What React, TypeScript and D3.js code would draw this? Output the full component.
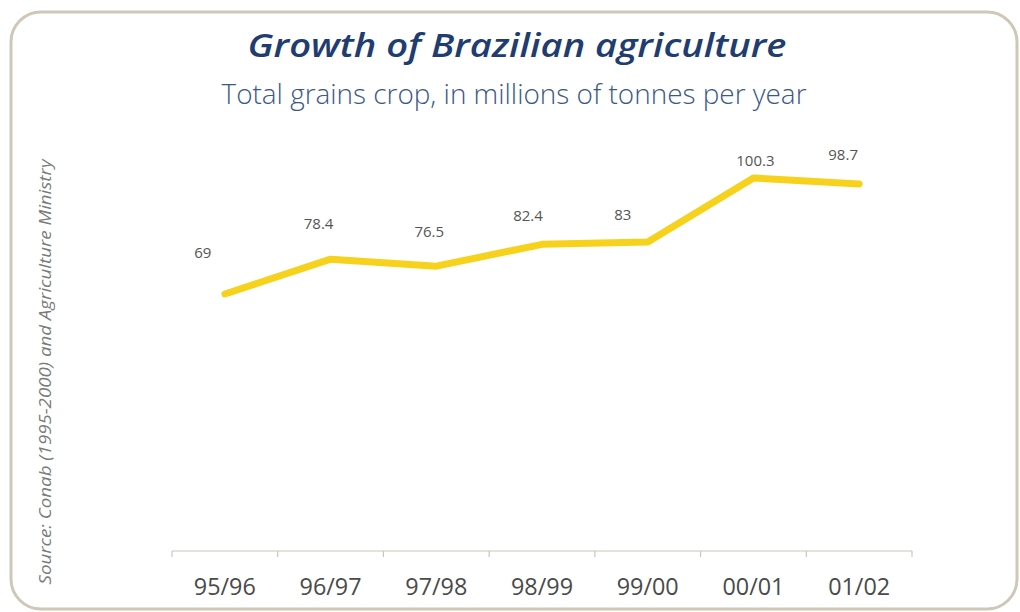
import React from "react";
import * as d3 from "d3";

const seasons: string[] = ["95/96", "96/97", "97/98", "98/99", "99/00", "00/01", "01/02"];
const grains: number[] = [69, 78.4, 76.5, 82.4, 83, 100.3, 98.7];
const valueLabels: string[] = ["69", "78.4", "76.5", "82.4", "83", "100.3", "98.7"];
// per-label nudges (layout only)
const labelDx: number[] = [-22, -12, -7, -14, -25, 2, -16];
const labelDy: number[] = [-36, -30, -29, -23, -22, -12, -24];

const W = 1020;
const H = 612;
const FONT = "'Open Sans', sans-serif";

export default function App() {
  const x = d3.scaleBand<string>().domain(seasons).range([172, 912]).padding(0);
  const y = d3.scaleLinear().domain([0, 100]).range([549.7, 179.1]);
  const cx = (s: string) => (x(s) as number) + x.bandwidth() / 2;

  const line = d3
    .line<number>()
    .x((_, i) => cx(seasons[i]))
    .y((d) => y(d));

  const axisY = 551;
  const tickXs = [...seasons.map((s) => x(s) as number), 912];

  return (
    <svg
      width={W}
      height={H}
      style={{ position: "absolute", left: 0, top: 0, background: "#ffffff" }}
    >
      <rect x={0} y={0} width={W} height={H} fill="#ffffff" />
      <rect
        x={11}
        y={12}
        width={1006}
        height={597}
        rx={30}
        ry={30}
        fill="#ffffff"
        stroke="#cfc8b8"
        strokeWidth={3}
      />
      <text
        x={517}
        y={57}
        textAnchor="middle"
        fontFamily={FONT}
        fontWeight={600}
        fontStyle="italic"
        fontSize={33}
        fill="#1f3d70"
        textLength={539}
        lengthAdjust="spacingAndGlyphs"
      >
        Growth of Brazilian agriculture
      </text>
      <text
        x={514}
        y={104}
        textAnchor="middle"
        fontFamily={FONT}
        fontWeight={300}
        fontSize={27}
        fill="#3b5888"
        textLength={585}
        lengthAdjust="spacingAndGlyphs"
      >
        Total grains crop, in millions of tonnes per year
      </text>
      <text
        transform={`translate(51, 372) rotate(-90)`}
        textAnchor="middle"
        fontFamily={FONT}
        fontStyle="italic"
        fontSize={16}
        fill="#7a7a7a"
        textLength={425}
        lengthAdjust="spacingAndGlyphs"
      >
        Source: Conab (1995-2000) and Agriculture Ministry
      </text>

      {/* axis */}
      <line x1={172} x2={912} y1={axisY} y2={axisY} stroke="#c9c6bc" strokeWidth={1.2} />
      {tickXs.map((tx, i) => (
        <line key={i} x1={tx} x2={tx} y1={axisY} y2={axisY + 6} stroke="#c9c6bc" strokeWidth={1.2} />
      ))}
      {seasons.map((s) => (
        <text
          key={s}
          x={cx(s)}
          y={595}
          textAnchor="middle"
          fontFamily={FONT}
          fontSize={24}
          fill="#4a4a4a"
          textLength={62}
          lengthAdjust="spacingAndGlyphs"
        >
          {s}
        </text>
      ))}

      <path
        d={line(grains) as string}
        fill="none"
        stroke="#f6d21c"
        strokeWidth={7}
        strokeLinejoin="round"
        strokeLinecap="round"
      />

      {grains.map((v, i) => (
        <text
          key={i}
          x={cx(seasons[i]) + labelDx[i]}
          y={y(v) + labelDy[i]}
          textAnchor="middle"
          fontFamily={FONT}
          fontSize={15}
          fill="#555555"
        >
          {valueLabels[i]}
        </text>
      ))}
    </svg>
  );
}
